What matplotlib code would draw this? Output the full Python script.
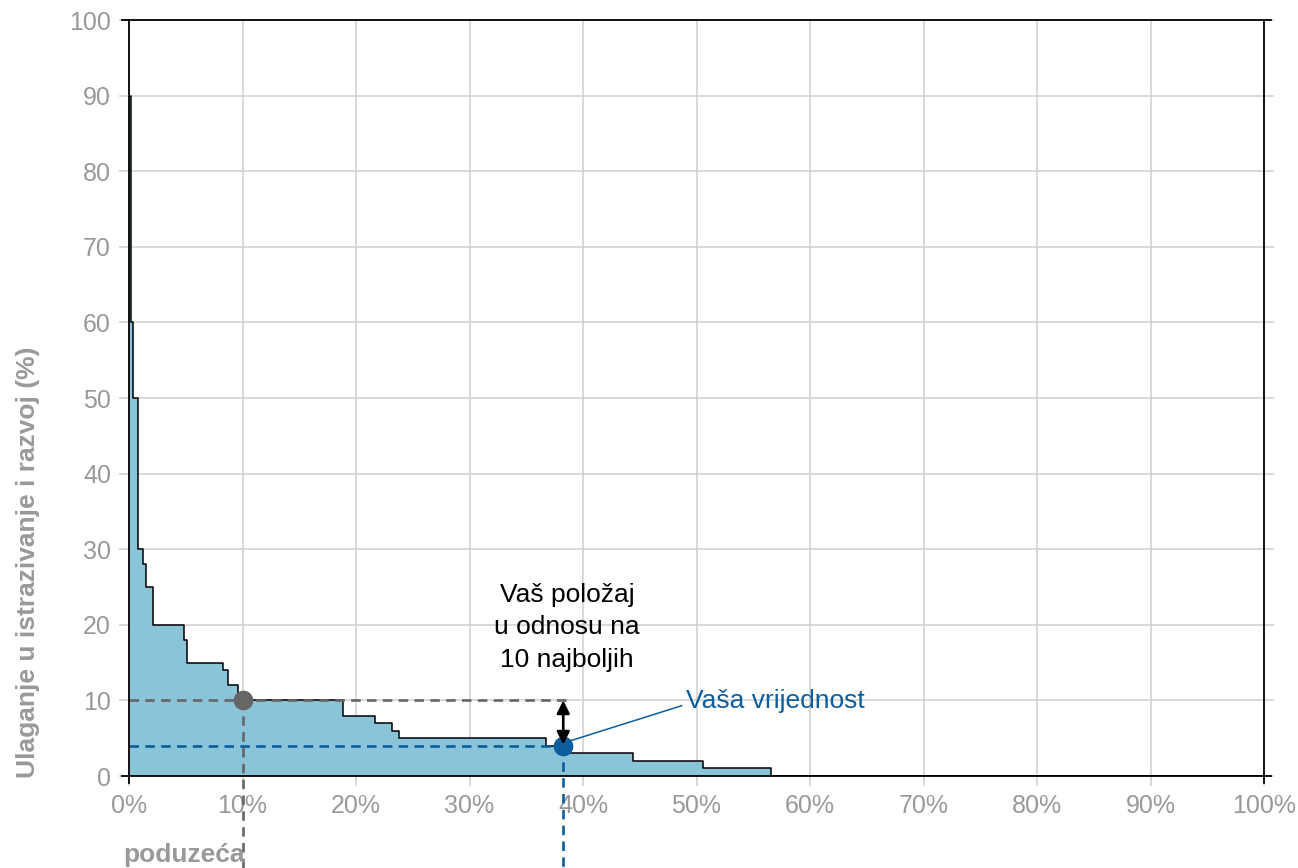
import matplotlib
matplotlib.use("Agg")
import matplotlib.pyplot as plt
from matplotlib.lines import Line2D

plt.rcParams['font.family'] = ['Liberation Sans', 'DejaVu Sans']

# ---- data ----
x_edges = [0, 0.18, 0.38, 0.82, 1.26, 1.47, 2.09, 4.87, 5.08, 8.31, 8.70, 9.58,
           18.88, 21.67, 23.15, 23.79, 36.74, 38.26, 44.43, 50.6, 56.54, 100]
y_values = [90, 60, 50, 30, 28, 25, 20, 18, 15, 14, 12, 10, 8, 7, 6, 5, 4, 3, 2, 1, 0]
top10_x, top10_y = 10, 10
your_x, your_y = 38.26, 4
x_ticks = [0, 10, 20, 30, 40, 50, 60, 70, 80, 90, 100]
x_tick_labels = [f"{v}%" for v in x_ticks]
y_ticks = [0, 10, 20, 30, 40, 50, 60, 70, 80, 90, 100]
annot_text = "Vaš položaj\nu odnosu na\n10 najboljih"
your_label = "Vaša vrijednost"
ylabel = "Ulaganje u istrazivanje i razvoj (%)"
xlabel = "poduzeća"

W, H = 1298, 868
fig = plt.figure(figsize=(W / 100, H / 100), dpi=100)
L, R, T, B = 129, 1264, 20, 776
ax = fig.add_axes([L / W, 1 - B / H, (R - L) / W, (B - T) / H])

fill_col = '#8AC4D8'
gray = '#666666'
blue = '#0B5D9E'
tick_gray = '#999999'

ys = y_values + [y_values[-1]]
ax.fill_between(x_edges, ys, step='post', color=fill_col, lw=0, zorder=2)
ax.step(x_edges, ys, where='post', color='black', lw=1.1, zorder=3)

ax.set_xlim(0, 100)
ax.set_ylim(0, 100)
ax.set_xticks(x_ticks)
ax.set_xticklabels(x_tick_labels)
ax.set_yticks(y_ticks)
ax.grid(True, color='#cfcfcf', lw=1.1, zorder=0)
ax.set_axisbelow(True)
for s in ax.spines.values():
    s.set_color('black')
    s.set_linewidth(1.3)
    s.set_zorder(5)
ax.tick_params(axis='y', which='both', left=True, right=True, length=7, width=1.1,
               color='#cfcfcf', labelsize=18, labelcolor=tick_gray, pad=6)
ax.tick_params(axis='x', length=7, width=1.1, color='#cfcfcf',
               labelsize=18, labelcolor=tick_gray, pad=6)

# black corner extensions of frame
ext_x = 7 / (R - L)
ext_y = 7 / (B - T)
for (xs, yv) in [((-ext_x, 0), (0, 0)), ((-ext_x, 0), (1, 1)),
                 ((1, 1 + ext_x), (0, 0)), ((1, 1 + ext_x), (1, 1)),
                 ((0, 0), (-ext_y, 0)), ((1, 1), (-ext_y, 0))]:
    ax.add_line(Line2D(xs, yv, transform=ax.transAxes, color='black', lw=1.3,
                       clip_on=False, zorder=6))

ybot = -(H - B) / 7.56 - 1
dash = (3.6, 2.4)
lw_d = 1.9
# gray reference (top 10)
ax.plot([0, 38.9], [top10_y, top10_y], color=gray, lw=lw_d, ls=(0, dash), zorder=4)
ax.plot([top10_x, top10_x], [top10_y, ybot], color=gray, lw=lw_d, ls=(0, dash),
        zorder=4, clip_on=False)
ax.scatter([top10_x], [top10_y], s=200, color=gray, zorder=7, linewidths=0)

# blue (your value)
ax.plot([0, your_x], [your_y, your_y], color=blue, lw=lw_d, ls=(0, dash), zorder=4)
ax.plot([your_x, your_x], [your_y, ybot], color=blue, lw=lw_d, ls=(0, dash),
        zorder=4, clip_on=False)
ax.scatter([your_x], [your_y], s=200, color=blue, zorder=7, linewidths=0)

# double arrow
ax.annotate('', xy=(your_x, your_y + 0.15), xytext=(your_x, top10_y),
            arrowprops=dict(arrowstyle='<|-|>', color='black', lw=1.9,
                            mutation_scale=19, shrinkA=0, shrinkB=0), zorder=8)

ax.text(38.6, 19.7, annot_text, ha='center', va='center', fontsize=19,
        color='black', linespacing=1.45, zorder=8)

# leader line & label
ax.plot([your_x + 0.5, 48.7], [your_y + 0.6, 9.3], color=blue, lw=1.1, zorder=8)
ax.text(49.1, 9.9, your_label, ha='left', va='center', fontsize=19, color=blue, zorder=8)

fig.text(28 / W, 1 - 562 / H, ylabel, rotation=90, ha='center', va='center',
         fontsize=19, fontweight='bold', color=tick_gray)
fig.text(123 / W, 1 - 855 / H, xlabel, ha='left', va='center',
         fontsize=19, fontweight='bold', color=tick_gray)

fig.savefig('out.png', dpi=100)
